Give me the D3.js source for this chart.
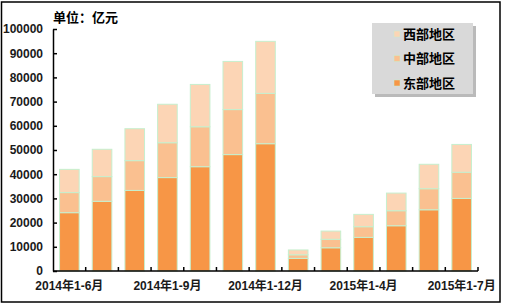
<!DOCTYPE html>
<html>
<head>
<meta charset="utf-8">
<script src="https://cdn.jsdelivr.net/npm/d3@7"></script>
<style>
  body { margin: 0; background: #fff; }
  text { font-family: "Liberation Sans", Arial, "Noto Sans CJK SC", sans-serif; font-weight: bold; }
</style>
</head>
<body>
<svg id="chart" width="507" height="307"></svg>
<script>
// periods (one bar each)
var periods = ['2014年1-6月', '2014年1-7月', '2014年1-8月', '2014年1-9月', '2014年1-10月', '2014年1-11月', '2014年1-12月',
               '2015年1-2月', '2015年1-3月', '2015年1-4月', '2015年1-5月', '2015年1-6月', '2015年1-7月'];
var shownLabels = ['2014年1-6月', '2014年1-9月', '2014年1-12月', '2015年1-4月', '2015年1-7月'];

// 亿元
var east = [24100, 28800, 33300, 38600, 43100, 48100, 52600, 5200, 9600, 13900, 18700, 25300, 30000];
var mid  = [8300, 10200, 12300, 14400, 16500, 18600, 20800, 1500, 3500, 4400, 6200, 8700, 10800];
var west = [9600, 11300, 13200, 15900, 17500, 19900, 21500, 2000, 3400, 5100, 7300, 10100, 11500];

var seriesNames = ['东部地区', '中部地区', '西部地区'];
var colors = ['#f79646', '#fac090', '#fcd5b5'];
var yTicks = [0, 10000, 20000, 30000, 40000, 50000, 60000, 70000, 80000, 90000, 100000];

(function(){
    var svg = d3.select('#chart');

    // outer frame
    svg.append('rect')
        .attr('x', 1.5).attr('y', 2)
        .attr('width', 498.5).attr('height', 300)
        .attr('fill', '#fff')
        .attr('stroke', '#000')
        .attr('stroke-width', 1.5);

    var plotLeft = 53, plotRight = 478, plotTop = 29, plotBottom = 271;

    var x = d3.scaleBand().domain(periods).range([plotLeft, plotRight]).paddingInner(0.4).paddingOuter(0.2);
    var y = d3.scaleLinear().domain([0, 100000]).range([plotBottom, plotTop]);

    var rows = periods.map(function(p, i){
        return {period: p, '东部地区': east[i], '中部地区': mid[i], '西部地区': west[i]};
    });
    var stacked = d3.stack().keys(seriesNames)(rows);

    svg.append('g')
        .selectAll('g')
        .data(stacked)
        .enter()
        .append('g')
        .attr('fill', function(d, i){ return colors[i]; })
        .selectAll('rect')
        .data(function(d){ return d; })
        .enter()
        .append('rect')
        .attr('x', function(d){ return x(d.data.period); })
        .attr('y', function(d){ return y(d[1]); })
        .attr('width', x.bandwidth())
        .attr('height', function(d){ return y(d[0]) - y(d[1]); })
        .attr('stroke', '#c6efce')
        .attr('stroke-width', 1);

    // y axis
    var yAxis = svg.append('g')
        .attr('transform', 'translate(' + plotLeft + ',0)')
        .call(d3.axisLeft(y).tickValues(yTicks).tickFormat(d3.format('d')).tickSizeInner(-4).tickSizeOuter(0).tickPadding(10));
    yAxis.select('.domain').attr('stroke', '#000').attr('stroke-width', 1.5);
    yAxis.selectAll('.tick line').attr('stroke', '#000').attr('stroke-width', 1.5);
    yAxis.selectAll('text').attr('fill', '#1a1a1a').style('font-size', '12px');

    // x axis: line, boundary ticks, and every third label
    var xAxis = svg.append('g')
        .attr('transform', 'translate(0,' + plotBottom + ')')
        .call(d3.axisBottom(x).tickValues(shownLabels).tickSize(0).tickPadding(10));
    xAxis.select('.domain').attr('d', 'M' + plotLeft + ',0H' + plotRight).attr('stroke', '#000').attr('stroke-width', 1.5);
    xAxis.selectAll('text').attr('fill', '#1a1a1a').style('font-size', '12px');

    var boundary = function(d){ return x(d) - x.step() * x.paddingInner() / 2 + x.step(); };
    svg.append('g')
        .selectAll('line')
        .data(periods)
        .enter()
        .append('line')
        .attr('x1', boundary)
        .attr('x2', boundary)
        .attr('y1', plotBottom - 4)
        .attr('y2', plotBottom)
        .attr('stroke', '#000')
        .attr('stroke-width', 1.5);

    // unit title
    svg.append('text')
        .attr('x', plotLeft)
        .attr('y', 22)
        .style('font-size', '13px')
        .attr('fill', '#000')
        .text('单位：亿元');

    // legend
    var legend = svg.append('g').attr('transform', 'translate(372,23)');
    legend.append('rect')
        .attr('x', 3).attr('y', 3)
        .attr('width', 101).attr('height', 71)
        .attr('fill', '#8c8c8c').attr('opacity', 0.6);
    legend.append('rect')
        .attr('width', 101).attr('height', 71)
        .attr('fill', '#d9d9d9');

    var legendOrder = [2, 1, 0];
    var item = legend.selectAll('g.item')
        .data(legendOrder)
        .enter()
        .append('g')
        .attr('class', 'item')
        .attr('transform', function(d, i){ return 'translate(22,' + (11 + i * 24.5) + ')'; });
    item.append('rect')
        .attr('x', 0).attr('y', -3)
        .attr('width', 6).attr('height', 6)
        .attr('fill', function(d){ return colors[d]; })
        .attr('stroke', '#c6efce').attr('stroke-width', 0.5);
    item.append('text')
        .attr('x', 9)
        .attr('dy', '0.36em')
        .style('font-size', '13px')
        .attr('fill', '#000')
        .text(function(d){ return seriesNames[d]; });
})();
</script>
</body>
</html>
